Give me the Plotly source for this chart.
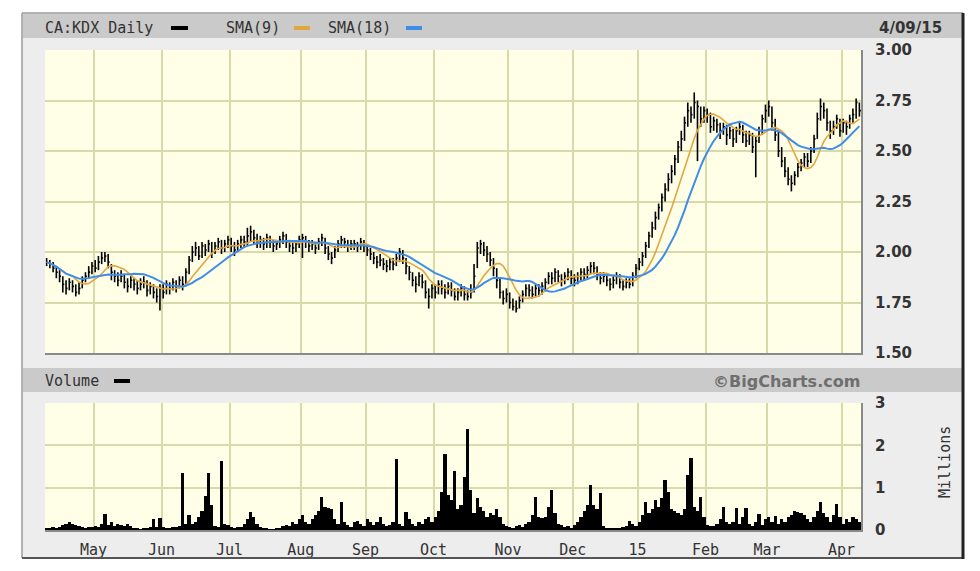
import plotly.graph_objects as go
import pandas as pd

# ---------------- data ----------------
close = [
    1.95, 1.94, 1.92, 1.90, 1.88, 1.84, 1.82, 1.85, 1.83, 1.80,
    1.82, 1.86, 1.88, 1.90, 1.93, 1.92, 1.95, 1.97, 1.98, 1.95,
    1.90, 1.88, 1.86, 1.88, 1.85, 1.83, 1.86, 1.84, 1.82, 1.84,
    1.85, 1.81, 1.83, 1.80, 1.78, 1.82, 1.80, 1.84, 1.82, 1.85,
    1.83, 1.86, 1.84, 1.90, 1.96, 2.00, 2.02, 1.98, 2.03, 2.01,
    2.04, 2.00, 2.03, 2.05, 2.02, 2.04, 2.06, 2.03, 2.01, 2.04,
    2.06, 2.05, 2.08, 2.10, 2.07, 2.05, 2.06, 2.04, 2.07, 2.05,
    2.03, 2.04, 2.06, 2.08, 2.05, 2.03, 2.02, 2.04, 2.06, 2.07,
    2.05, 2.03, 2.04, 2.02, 2.05, 2.07, 2.02, 1.99, 1.97, 2.01,
    2.04, 2.06, 2.05, 2.03, 2.04, 2.04, 2.03, 2.05, 2.03, 2.01,
    1.99, 1.97, 1.95, 1.96, 1.94, 1.93, 1.95, 1.94, 1.97, 2.00,
    1.97, 1.93, 1.90, 1.86, 1.84, 1.88, 1.85, 1.80, 1.78, 1.82,
    1.80, 1.84, 1.82, 1.80, 1.83, 1.81, 1.78, 1.80, 1.82, 1.79,
    1.78, 1.80, 1.88, 2.02, 2.04, 2.01, 1.99, 1.96, 1.92, 1.86,
    1.80, 1.77, 1.79, 1.75, 1.73, 1.72, 1.76, 1.79, 1.82, 1.81,
    1.79, 1.82, 1.81, 1.83, 1.85, 1.88, 1.87, 1.90, 1.88, 1.86,
    1.88, 1.90, 1.87, 1.86, 1.88, 1.90, 1.89, 1.91, 1.93, 1.92,
    1.89, 1.87, 1.88, 1.86, 1.84, 1.86, 1.88, 1.85, 1.83, 1.85,
    1.84, 1.88, 1.92, 1.95, 1.98, 2.03, 2.08, 2.12, 2.17, 2.22,
    2.27, 2.31, 2.36, 2.40, 2.46, 2.52, 2.56, 2.64, 2.70, 2.68,
    2.74, 2.72, 2.66, 2.70, 2.68, 2.62, 2.65, 2.63, 2.60, 2.62,
    2.58, 2.60, 2.56, 2.60, 2.62, 2.58, 2.55, 2.58, 2.52, 2.55,
    2.60, 2.66, 2.70, 2.72, 2.64, 2.58, 2.50, 2.45, 2.40, 2.36,
    2.34, 2.38, 2.42, 2.44, 2.47, 2.45, 2.50, 2.56, 2.66, 2.72,
    2.70, 2.64, 2.60, 2.62, 2.66, 2.60, 2.64, 2.62, 2.66, 2.68,
    2.74, 2.70,
]

high = [
    1.97, 1.96, 1.95, 1.93, 1.91, 1.88, 1.86, 1.87, 1.86, 1.84,
    1.85, 1.88, 1.90, 1.93, 1.95, 1.96, 1.98, 2.00, 2.00, 1.99,
    1.94, 1.91, 1.90, 1.91, 1.89, 1.87, 1.88, 1.87, 1.86, 1.87,
    1.88, 1.86, 1.85, 1.84, 1.82, 1.84, 1.84, 1.86, 1.85, 1.87,
    1.86, 1.88, 1.88, 1.92, 1.98, 2.03, 2.05, 2.03, 2.05, 2.04,
    2.06, 2.05, 2.05, 2.07, 2.06, 2.06, 2.08, 2.07, 2.05, 2.06,
    2.08, 2.08, 2.12, 2.13, 2.11, 2.09, 2.08, 2.07, 2.09, 2.08,
    2.06, 2.06, 2.08, 2.10, 2.09, 2.06, 2.05, 2.06, 2.08, 2.09,
    2.08, 2.06, 2.06, 2.05, 2.07, 2.09, 2.07, 2.03, 2.00, 2.03,
    2.06, 2.08, 2.07, 2.06, 2.06, 2.06, 2.05, 2.07, 2.06, 2.04,
    2.02, 2.00, 1.98, 1.99, 1.97, 1.96, 1.97, 1.97, 1.99, 2.02,
    2.01, 1.97, 1.93, 1.90, 1.88, 1.90, 1.89, 1.86, 1.82, 1.84,
    1.84, 1.86, 1.86, 1.84, 1.85, 1.85, 1.82, 1.82, 1.84, 1.83,
    1.81, 1.84, 1.94, 2.05, 2.06, 2.05, 2.03, 2.00, 1.97, 1.92,
    1.87, 1.81, 1.82, 1.80, 1.77, 1.76, 1.78, 1.81, 1.84, 1.84,
    1.83, 1.84, 1.84, 1.85, 1.87, 1.90, 1.90, 1.92, 1.91, 1.89,
    1.90, 1.92, 1.91, 1.89, 1.90, 1.92, 1.92, 1.93, 1.95, 1.95,
    1.93, 1.90, 1.90, 1.89, 1.87, 1.88, 1.90, 1.89, 1.86, 1.87,
    1.87, 1.90, 1.94, 1.97, 2.00, 2.05, 2.10, 2.15, 2.20, 2.24,
    2.29, 2.34, 2.39, 2.43, 2.48, 2.55, 2.60, 2.67, 2.74, 2.72,
    2.79, 2.75, 2.72, 2.72, 2.71, 2.69, 2.67, 2.66, 2.64, 2.64,
    2.63, 2.62, 2.61, 2.62, 2.64, 2.63, 2.60, 2.60, 2.59, 2.57,
    2.62, 2.68, 2.73, 2.75, 2.72, 2.66, 2.60, 2.52, 2.47, 2.42,
    2.38, 2.40, 2.44, 2.46, 2.49, 2.49, 2.52, 2.58, 2.69, 2.76,
    2.74, 2.71, 2.65, 2.65, 2.68, 2.66, 2.66, 2.65, 2.68, 2.71,
    2.76, 2.74,
]

low = [
    1.93, 1.92, 1.90, 1.87, 1.85, 1.80, 1.79, 1.81, 1.80, 1.78,
    1.79, 1.82, 1.85, 1.87, 1.89, 1.90, 1.91, 1.94, 1.95, 1.92,
    1.86, 1.85, 1.83, 1.85, 1.82, 1.80, 1.82, 1.81, 1.79, 1.81,
    1.82, 1.78, 1.79, 1.77, 1.75, 1.71, 1.77, 1.79, 1.79, 1.81,
    1.80, 1.82, 1.81, 1.84, 1.89, 1.95, 1.98, 1.96, 1.97, 1.98,
    2.00, 1.97, 1.99, 2.01, 1.99, 2.00, 2.02, 2.00, 1.98, 2.00,
    2.02, 2.02, 2.03, 2.05, 2.04, 2.02, 2.02, 2.01, 2.02, 2.02,
    2.00, 2.01, 2.02, 2.04, 2.02, 2.00, 1.99, 2.00, 2.02, 1.97,
    2.02, 2.00, 2.01, 1.99, 2.01, 2.03, 1.99, 1.96, 1.94, 1.97,
    2.00, 2.02, 2.02, 2.00, 2.01, 2.01, 2.00, 2.01, 2.00, 1.98,
    1.96, 1.94, 1.92, 1.93, 1.91, 1.90, 1.91, 1.91, 1.93, 1.95,
    1.94, 1.89, 1.86, 1.83, 1.80, 1.83, 1.82, 1.77, 1.72, 1.77,
    1.77, 1.79, 1.79, 1.77, 1.79, 1.78, 1.76, 1.76, 1.78, 1.76,
    1.76, 1.77, 1.80, 1.92, 1.99, 1.98, 1.95, 1.93, 1.88, 1.82,
    1.77, 1.74, 1.75, 1.72, 1.71, 1.70, 1.72, 1.75, 1.78, 1.78,
    1.77, 1.78, 1.78, 1.79, 1.81, 1.84, 1.84, 1.85, 1.85, 1.83,
    1.84, 1.86, 1.84, 1.83, 1.84, 1.86, 1.86, 1.87, 1.89, 1.89,
    1.86, 1.84, 1.85, 1.83, 1.81, 1.82, 1.84, 1.82, 1.81, 1.82,
    1.82, 1.83, 1.87, 1.91, 1.93, 1.97, 2.02, 2.07, 2.11, 2.16,
    2.20, 2.25, 2.30, 2.34, 2.38, 2.44, 2.50, 2.55, 2.62, 2.64,
    2.66, 2.45, 2.62, 2.64, 2.64, 2.59, 2.60, 2.59, 2.56, 2.58,
    2.53, 2.56, 2.52, 2.54, 2.58, 2.54, 2.52, 2.53, 2.49, 2.37,
    2.54, 2.58, 2.64, 2.67, 2.60, 2.55, 2.47, 2.42, 2.37, 2.33,
    2.30, 2.33, 2.37, 2.40, 2.42, 2.42, 2.44, 2.49, 2.56, 2.65,
    2.66, 2.60, 2.56, 2.58, 2.61, 2.57, 2.59, 2.58, 2.61, 2.64,
    2.66, 2.67,
]

volume_millions = [
    0.04, 0.05, 0.06, 0.05, 0.08, 0.12, 0.15, 0.18, 0.14, 0.12,
    0.10, 0.06, 0.05, 0.08, 0.07, 0.10, 0.06, 0.15, 0.38, 0.12,
    0.20, 0.10, 0.15, 0.12, 0.10, 0.14, 0.09, 0.05, 0.04, 0.03,
    0.04, 0.05, 0.08, 0.25, 0.08, 0.28, 0.06, 0.04, 0.05, 0.06,
    0.08, 0.10, 1.35, 0.15, 0.35, 0.15, 0.20, 0.30, 0.45, 0.80,
    1.35, 0.60, 0.10, 0.08, 1.62, 0.15, 0.12, 0.08, 0.05, 0.06,
    0.08, 0.15, 0.25, 0.43, 0.30, 0.15, 0.08, 0.05, 0.04, 0.03,
    0.03, 0.04, 0.05, 0.10, 0.12, 0.10, 0.18, 0.15, 0.25, 0.35,
    0.20, 0.15, 0.25, 0.35, 0.45, 0.78, 0.55, 0.52, 0.50, 0.25,
    0.15, 0.65, 0.20, 0.12, 0.08, 0.18, 0.22, 0.15, 0.10, 0.25,
    0.18, 0.12, 0.20, 0.30, 0.15, 0.10, 0.12, 0.20, 1.67, 0.15,
    0.10, 0.42, 0.25, 0.15, 0.10, 0.20, 0.15, 0.25, 0.30, 0.20,
    0.30, 0.45, 0.90, 1.79, 0.82, 0.70, 1.39, 0.50, 0.60, 1.25,
    2.38, 0.95, 0.40, 0.75, 0.55, 0.45, 0.30, 0.40, 0.35, 0.50,
    0.30, 0.15, 0.10, 0.08, 0.05, 0.10, 0.12, 0.08, 0.15, 0.20,
    0.35, 0.78, 0.30, 0.28, 0.30, 0.55, 0.95, 0.40, 0.15, 0.12,
    0.08, 0.10, 0.05, 0.12, 0.18, 0.30, 0.45, 0.60, 1.06, 0.60,
    0.50, 0.87, 0.10, 0.05, 0.04, 0.05, 0.04, 0.05, 0.08, 0.10,
    0.22, 0.15, 0.10, 0.20, 0.35, 0.66, 0.40, 0.50, 0.70, 0.55,
    0.75, 1.18, 0.90, 0.50, 0.45, 0.40, 0.35, 0.50, 1.30, 1.70,
    0.55, 0.45, 0.78, 0.30, 0.12, 0.10, 0.10, 0.15, 0.25, 0.55,
    0.20, 0.15, 0.20, 0.52, 0.15, 0.30, 0.52, 0.15, 0.10, 0.20,
    0.37, 0.12, 0.25, 0.30, 0.20, 0.32, 0.15, 0.25, 0.20, 0.30,
    0.35, 0.45, 0.42, 0.40, 0.35, 0.25, 0.20, 0.30, 0.45, 0.66,
    0.40, 0.30, 0.20, 0.35, 0.62, 0.30, 0.15, 0.25, 0.20, 0.30,
    0.25, 0.20,
]

# month boundaries (trading-day index of each month start) and labels
month_ticks = [14.5, 35.5, 56.5, 78.5, 98.5, 119.5, 142.5, 162.5, 182.5, 203.5, 222.5, 245.5]
month_labels = ["May", "Jun", "Jul", "Aug", "Sep", "Oct", "Nov", "Dec", "15", "Feb", "Mar", "Apr"]
price_ticks = [1.50, 1.75, 2.00, 2.25, 2.50, 2.75, 3.00]
volume_ticks = [0, 1, 2, 3]

title_symbol = "CA:KDX Daily"
sma_labels = ["SMA(9)", "SMA(18)"]
last_date = "4/09/15"

# ---------------- derived ----------------
n = len(close)
idx = list(range(n))
s = pd.Series(close)
sma9 = s.rolling(9, min_periods=1).mean()
sma18 = s.rolling(18, min_periods=1).mean()

bx, by = [], []
for i in idx:
    bx += [i, i, None, i, i + 0.45, None]
    by += [low[i], high[i], None, close[i], close[i], None]

W, H = 980, 571


def px(x):
    return x / W


def py(y):
    return 1 - y / H


PLOT_BG = "#FFFFE8"
GRID = "#D9D9A9"
FRAME_BG = "#EDEDED"
BAR_BG = "#CACACA"
TXT = "#333333"
MONO = "DejaVu Sans Mono"
SANS = "DejaVu Sans"
ORANGE = "#E3A63E"
BLUE = "#3F8DE8"

fig = go.Figure()

fig.add_trace(go.Scatter(x=bx, y=by, mode="lines", line=dict(color="#000000", width=1.6),
                         xaxis="x", yaxis="y", showlegend=False, hoverinfo="skip"))
fig.add_trace(go.Scatter(x=idx, y=sma9, mode="lines", line=dict(color=ORANGE, width=1.6),
                         xaxis="x", yaxis="y", showlegend=False))
fig.add_trace(go.Scatter(x=idx, y=sma18, mode="lines", line=dict(color=BLUE, width=2),
                         xaxis="x", yaxis="y", showlegend=False))
fig.add_trace(go.Bar(x=idx, y=volume_millions, marker=dict(color="#000000", line=dict(width=0)),
                     xaxis="x2", yaxis="y2", showlegend=False))

PX0, PX1 = 45, 861
xdom = [px(PX0), px(PX1)]
common_x = dict(domain=xdom, range=[-0.5, n - 0.5], tickvals=month_ticks, showgrid=True,
                gridcolor=GRID, gridwidth=2, zeroline=False, showline=True,
                linecolor="#8A8A8A", linewidth=2, ticks="")


def rect(x0, y0, x1, y1, color):
    return dict(type="rect", xref="paper", yref="paper", x0=px(x0), x1=px(x1), y0=py(y1), y1=py(y0),
                fillcolor=color, line=dict(width=0), layer="below")


def hline(x0, x1, y, color, width):
    return dict(type="line", xref="paper", yref="paper", x0=px(x0), x1=px(x1), y0=py(y), y1=py(y),
                line=dict(color=color, width=width))


def vline(x, y0, y1, color, width):
    return dict(type="line", xref="paper", yref="paper", x0=px(x), x1=px(x), y0=py(y0), y1=py(y1),
                line=dict(color=color, width=width))


shapes = [
    rect(22, 13, 963, 558, FRAME_BG),
    rect(23, 14, 962, 38, BAR_BG),
    rect(23, 368, 962, 392, BAR_BG),
    rect(PX0, 50, PX1, 353, PLOT_BG),
    rect(PX0, 403, PX1, 530, PLOT_BG),
    hline(22, 963, 13, "#9A9A9A", 1.5),
    vline(22, 13, 558, "#9A9A9A", 1.5),
    hline(22, 964, 558, "#555555", 2),
    vline(963, 13, 559, "#222222", 3),
    hline(171, 188, 28, "#000000", 4),
    hline(294, 310, 28, ORANGE, 4),
    hline(406, 422, 28, BLUE, 4),
    hline(114, 130, 381, "#000000", 4),
]


def label(text, x, y, anchor, font, angle=0):
    return dict(text=text, x=px(x), y=py(y), xref="paper", yref="paper", xanchor=anchor,
                yanchor="middle", showarrow=False, textangle=angle, font=font)


mono_font = dict(family=MONO, size=15, color=TXT)
annotations = [
    label(title_symbol, 43, 28, "left", mono_font),
    label(sma_labels[0], 224, 28, "left", mono_font),
    label(sma_labels[1], 326, 28, "left", mono_font),
    label(last_date, 944, 28, "right", dict(family=SANS, size=15, color=TXT, weight="bold")),
    label("Volume", 43, 381, "left", mono_font),
    label("©BigCharts.com", 862, 381, "right", dict(family=SANS, size=16, color="#6E6E6E", weight="bold")),
    label("Millions", 945, 462, "center", mono_font, angle=-90),
]

fig.update_layout(
    width=W, height=H, margin=dict(l=0, r=0, t=0, b=0, autoexpand=False),
    paper_bgcolor="#FFFFFF", plot_bgcolor=PLOT_BG, bargap=0,
    showlegend=False, hovermode=False,
    xaxis=dict(**common_x, anchor="y", showticklabels=False),
    yaxis=dict(domain=[py(353), py(50)], range=[1.5, 3.0], side="right", anchor="x",
               tickvals=price_ticks, ticktext=[f"{v:.2f}" for v in price_ticks],
               showgrid=True, gridcolor=GRID, gridwidth=2, zeroline=False,
               showline=True, linecolor="#8A8A8A", linewidth=2, ticks="",
               ticklabelstandoff=9,
               tickfont=dict(family=SANS, size=15, color=TXT, weight="bold")),
    xaxis2=dict(**common_x, anchor="y2", showticklabels=True, ticktext=month_labels,
                ticklabelstandoff=5, tickfont=dict(family=MONO, size=15, color=TXT)),
    yaxis2=dict(domain=[py(530), py(403)], range=[0, 3], side="right", anchor="x2",
                tickvals=volume_ticks, ticktext=[str(v) for v in volume_ticks],
                showgrid=True, gridcolor=GRID, gridwidth=2, zeroline=False,
                showline=True, linecolor="#8A8A8A", linewidth=2, ticks="",
                ticklabelstandoff=9,
                tickfont=dict(family=SANS, size=15, color=TXT, weight="bold")),
    shapes=shapes, annotations=annotations,
)

fig.write_html(
    "out.html",
    config={"displayModeBar": False, "staticPlot": True},
    post_script="document.body.style.margin='0';document.body.style.overflow='hidden';",
)
